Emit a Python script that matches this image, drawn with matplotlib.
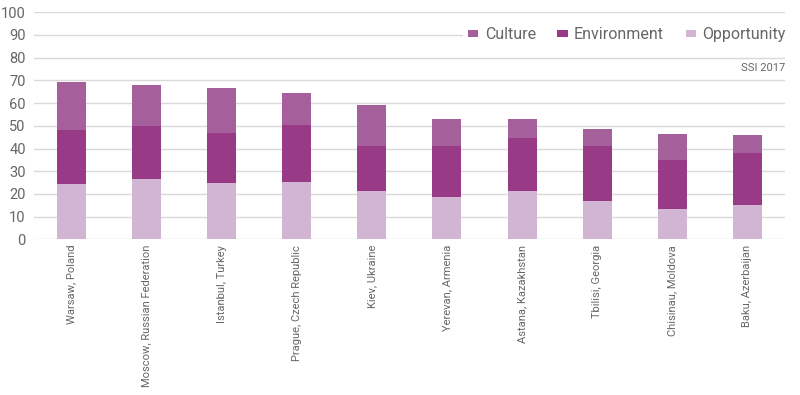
import numpy as np
import matplotlib
matplotlib.use('Agg')
from matplotlib import pyplot as plt

cities = ['Warsaw, Poland', 'Moscow, Russian Federation', 'Istanbul, Turkey',
          'Prague, Czech Republic', 'Kiev, Ukraine', 'Yerevan, Armenia',
          'Astana, Kazakhstan', 'Tbilisi, Georgia', 'Chisinau, Moldova',
          'Baku, Azerbaijan']
opportunity = [24.2, 26.4, 24.8, 25.2, 21.3, 18.8, 21.1, 17.0, 13.3, 15.2]
environment = [24.1, 23.5, 22.0, 25.3, 19.7, 22.3, 23.7, 24.1, 21.6, 22.8]
culture = [21.1, 17.9, 19.8, 13.9, 18.2, 12.0, 8.2, 7.4, 11.5, 7.8]

c_opp = '#D2B4D3'
c_env = '#983A86'
c_cul = '#A5609B'
grey = '#666666'

plt.rcParams['font.family'] = ['Roboto', 'DejaVu Sans']

fig = plt.figure(figsize=(8, 3.95), dpi=100)
ax = fig.add_axes([0.0425, 0.394, 0.9385, 0.575])

x = np.arange(len(cities))
w = 0.386
opp = np.array(opportunity)
env = np.array(environment)
cul = np.array(culture)
b1 = ax.bar(x, opp, w, color=c_opp, zorder=3, label='Opportunity')
b2 = ax.bar(x, env, w, bottom=opp, color=c_env, zorder=3, label='Environment')
b3 = ax.bar(x, cul, w, bottom=opp + env, color=c_cul, zorder=3, label='Culture')

ax.set_xlim(-0.5, len(cities) - 0.5)
ax.set_ylim(0, 100)
ax.set_yticks(range(0, 101, 10))
ax.yaxis.grid(True, color='#d9d9d9', linewidth=1, zorder=0)
for s in ax.spines.values():
    s.set_visible(False)
ax.tick_params(axis='both', length=0, colors=grey)
ax.tick_params(axis='y', labelsize=10.5, pad=6)
ax.set_xticks(x)
ax.set_xticklabels(cities, rotation=90, fontsize=8, color=grey)
ax.tick_params(axis='x', pad=4)

# legend sits on a white box so it cuts the 90 gridline like the original
leg = ax.legend(handles=[b3, b2, b1], loc='upper right', ncol=3,
                bbox_to_anchor=(1.012, 0.97), frameon=True, fontsize=11.5,
                handlelength=0.65, handleheight=0.35, handletextpad=0.4,
                columnspacing=1.35, borderaxespad=0.2, borderpad=0.3)
leg.get_frame().set_edgecolor('none')
leg.get_frame().set_facecolor('white')
leg.get_frame().set_alpha(1)
leg.set_zorder(5)
for t in leg.get_texts():
    t.set_color(grey)

ax.text(1.0, 0.755, 'SSI 2017', transform=ax.transAxes, ha='right',
        va='center', fontsize=8, color=grey, zorder=5)

fig.savefig('out.png', dpi=100)
